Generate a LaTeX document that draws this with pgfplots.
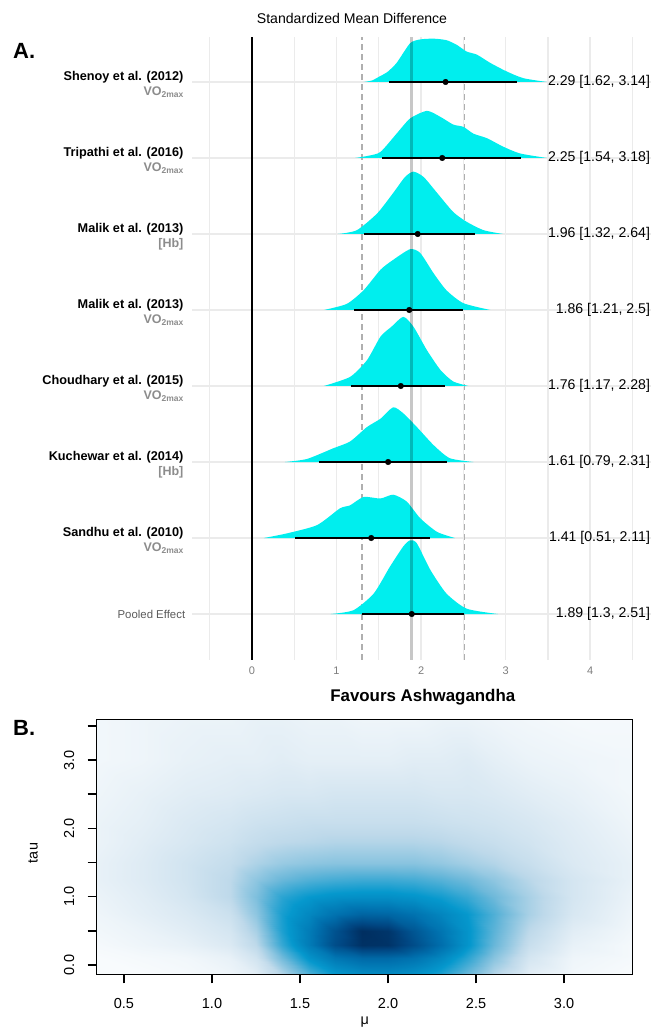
\documentclass[border=0pt]{standalone}
\usepackage{fontspec}
\setmainfont{Liberation Sans}
\usepackage{pgfplots}
\pgfplotsset{compat=1.18}
\usepackage{pgfplotstable}
\definecolor{ridge}{RGB}{0,238,238}
\definecolor{gridc}{RGB}{235,235,235}
\definecolor{sublab}{RGB}{140,140,140}
\definecolor{ticklab}{RGB}{125,125,125}
\definecolor{pooledlab}{RGB}{90,90,90}
\definecolor{dashc}{RGB}{175,175,175}
\pgfplotsset{colormap={hm}{rgb255(0pt)=(248,251,253) rgb255(8pt)=(222,235,244) rgb255(18pt)=(190,217,234) rgb255(33pt)=(110,185,218) rgb255(50pt)=(5,152,205) rgb255(68pt)=(0,110,172) rgb255(85pt)=(0,70,130) rgb255(100pt)=(0,35,80)}}
\pgfplotstableread{
x y z
0.345 -0.136 0.00
0.6 -0.136 0.00
0.85 -0.136 0.01
1.1 -0.136 0.03
1.25 -0.136 0.07
1.4 -0.136 0.20
1.55 -0.136 0.38
1.7 -0.136 0.50
1.85 -0.136 0.55
2.0 -0.136 0.56
2.15 -0.136 0.53
2.3 -0.136 0.46
2.45 -0.136 0.34
2.6 -0.136 0.20
2.8 -0.136 0.07
3.05 -0.136 0.02
3.39 -0.136 0.00
0.345 0.1 0.00
0.6 0.1 0.01
0.85 0.1 0.02
1.1 0.1 0.05
1.25 0.1 0.12
1.4 0.1 0.32
1.55 0.1 0.52
1.7 0.1 0.64
1.85 0.1 0.70
2.0 0.1 0.70
2.15 0.1 0.66
2.3 0.1 0.57
2.45 0.1 0.44
2.6 0.1 0.28
2.8 0.1 0.11
3.05 0.1 0.03
3.39 0.1 0.01
0.345 0.3 0.01
0.6 0.3 0.03
0.85 0.3 0.05
1.1 0.3 0.09
1.25 0.3 0.18
1.4 0.3 0.42
1.55 0.3 0.62
1.7 0.3 0.82
1.85 0.3 0.94
2.0 0.3 0.93
2.15 0.3 0.82
2.3 0.3 0.68
2.45 0.3 0.52
2.6 0.3 0.34
2.8 0.3 0.15
3.05 0.3 0.05
3.39 0.3 0.01
0.345 0.5 0.02
0.6 0.5 0.04
0.85 0.5 0.07
1.1 0.5 0.11
1.25 0.5 0.22
1.4 0.5 0.46
1.55 0.5 0.62
1.7 0.5 0.80
1.85 0.5 0.95
2.0 0.5 0.92
2.15 0.5 0.78
2.3 0.5 0.65
2.45 0.5 0.52
2.6 0.5 0.36
2.8 0.5 0.18
3.05 0.5 0.07
3.39 0.5 0.02
0.345 0.75 0.03
0.6 0.75 0.06
0.85 0.75 0.09
1.1 0.75 0.14
1.25 0.75 0.27
1.4 0.75 0.47
1.55 0.75 0.57
1.7 0.75 0.66
1.85 0.75 0.72
2.0 0.75 0.71
2.15 0.75 0.66
2.3 0.75 0.58
2.45 0.75 0.50
2.6 0.75 0.38
2.8 0.75 0.22
3.05 0.75 0.10
3.39 0.75 0.03
0.345 1.0 0.04
0.6 1.0 0.07
0.85 1.0 0.11
1.1 1.0 0.18
1.25 1.0 0.30
1.4 1.0 0.44
1.55 1.0 0.50
1.7 1.0 0.53
1.85 1.0 0.54
2.0 1.0 0.54
2.15 1.0 0.52
2.3 1.0 0.48
2.45 1.0 0.42
2.6 1.0 0.33
2.8 1.0 0.22
3.05 1.0 0.11
3.39 1.0 0.04
0.345 1.25 0.05
0.6 1.25 0.08
0.85 1.25 0.12
1.1 1.25 0.18
1.25 1.25 0.27
1.4 1.25 0.34
1.55 1.25 0.38
1.7 1.25 0.40
1.85 1.25 0.41
2.0 1.25 0.41
2.15 1.25 0.40
2.3 1.25 0.37
2.45 1.25 0.33
2.6 1.25 0.27
2.8 1.25 0.19
3.05 1.25 0.11
3.39 1.25 0.05
0.345 1.5 0.05
0.6 1.5 0.08
0.85 1.5 0.12
1.1 1.5 0.16
1.25 1.5 0.21
1.4 1.5 0.25
1.55 1.5 0.27
1.7 1.5 0.28
1.85 1.5 0.28
2.0 1.5 0.28
2.15 1.5 0.28
2.3 1.5 0.26
2.45 1.5 0.23
2.6 1.5 0.20
2.8 1.5 0.15
3.05 1.5 0.09
3.39 1.5 0.05
0.345 1.8 0.04
0.6 1.8 0.07
0.85 1.8 0.10
1.1 1.8 0.13
1.25 1.8 0.16
1.4 1.8 0.18
1.55 1.8 0.19
1.7 1.8 0.20
1.85 1.8 0.20
2.0 1.8 0.20
2.15 1.8 0.20
2.3 1.8 0.19
2.45 1.8 0.17
2.6 1.8 0.15
2.8 1.8 0.12
3.05 1.8 0.08
3.39 1.8 0.04
0.345 2.1 0.04
0.6 2.1 0.06
0.85 2.1 0.09
1.1 2.1 0.11
1.25 2.1 0.13
1.4 2.1 0.14
1.55 2.1 0.15
1.7 2.1 0.15
1.85 2.1 0.15
2.0 2.1 0.15
2.15 2.1 0.15
2.3 2.1 0.14
2.45 2.1 0.13
2.6 2.1 0.12
2.8 2.1 0.10
3.05 2.1 0.07
3.39 2.1 0.03
0.345 2.5 0.03
0.6 2.5 0.05
0.85 2.5 0.07
1.1 2.5 0.08
1.25 2.5 0.09
1.4 2.5 0.10
1.55 2.5 0.10
1.7 2.5 0.11
1.85 2.5 0.11
2.0 2.5 0.11
2.15 2.5 0.11
2.3 2.5 0.10
2.45 2.5 0.10
2.6 2.5 0.09
2.8 2.5 0.07
3.05 2.5 0.05
3.39 2.5 0.02
0.345 3.0 0.02
0.6 3.0 0.03
0.85 3.0 0.05
1.1 3.0 0.06
1.25 3.0 0.06
1.4 3.0 0.07
1.55 3.0 0.06
1.7 3.0 0.06
1.85 3.0 0.06
2.0 3.0 0.06
2.15 3.0 0.07
2.3 3.0 0.07
2.45 3.0 0.08
2.6 3.0 0.06
2.8 3.0 0.04
3.05 3.0 0.03
3.39 3.0 0.02
0.345 3.596 0.02
0.6 3.596 0.03
0.85 3.596 0.04
1.1 3.596 0.04
1.25 3.596 0.05
1.4 3.596 0.05
1.55 3.596 0.04
1.7 3.596 0.04
1.85 3.596 0.03
2.0 3.596 0.03
2.15 3.596 0.03
2.3 3.596 0.04
2.45 3.596 0.04
2.6 3.596 0.03
2.8 3.596 0.02
3.05 3.596 0.01
3.39 3.596 0.01
}\heat
\newcommand{\study}[3]{%
  \node[anchor=east,inner sep=0pt,font=\fontsize{12.7}{14}\selectfont\bfseries] at (axis cs:-0.81,#1+0.066) {#2};
  \node[anchor=east,inner sep=0pt,font=\fontsize{12.5}{14}\selectfont\bfseries,text=sublab] at (axis cs:-0.81,#1-0.13) {#3};}
\newcommand{\vo}{VO\raisebox{-0.3ex}{\fontsize{8.5}{9}\selectfont 2max}}
\newcommand{\est}[2]{\node[anchor=east,inner sep=0pt,font=\fontsize{14.1}{16}\selectfont] at (axis cs:4.71,#1) {#2};}
\begin{document}
\begin{tikzpicture}
\path[use as bounding box] (0,0) rectangle (651pt,1034pt);
\node[font=\fontsize{14.1}{16}\selectfont] at (352pt,1016pt) {Standardized Mean Difference};
\node[anchor=west,inner sep=0pt,font=\fontsize{22}{24}\selectfont\bfseries] at (13pt,983.5pt) {A.};
\node[anchor=west,inner sep=0pt,font=\fontsize{22}{24}\selectfont\bfseries] at (13pt,306pt) {B.};
\node[font=\fontsize{16.9}{18}\selectfont\bfseries] at (422.8pt,337.3pt) {Favours Ashwagandha};
\begin{axis}[
  scale only axis, width=459pt, height=623pt,
  at={(192pt,374pt)}, anchor=south west,
  xmin=-0.71, xmax=4.72, ymin=-0.605, ymax=7.592,
  axis line style={draw=none}, major tick length=0pt,
  xtick={-0.5,0,0.5,1,1.5,2,2.5,3,3.5,4,4.5},
  xticklabels={,0,,1,,2,,3,,4,},
  ytick={0,1,2,3,4,5,6,7}, yticklabels={},
  grid=major, major grid style={gridc, line width=1.3pt},
  clip=false,
  /pgf/number format/assume math mode=true,
  xticklabel style={anchor=center, yshift=-10.7pt, text=ticklab, font=\fontsize{11}{12}\selectfont},
]
% dashed interval lines
\addplot[dashc, line width=1.2pt, dash pattern=on 6pt off 4pt] coordinates {(1.3,-0.605) (1.3,7.592)};
\addplot[dashc, line width=1.2pt, dash pattern=on 6pt off 4pt] coordinates {(2.51,-0.605) (2.51,7.592)};
\addplot[black, line width=2.7pt] coordinates {(0,-0.605) (0,7.592)};
% densities
\addplot[fill=ridge, draw=none, smooth, tension=0.4] coordinates {(1.32,7.00) (1.42,7.02) (1.52,7.08) (1.60,7.13) (1.71,7.25) (1.87,7.51) (1.99,7.56) (2.15,7.57) (2.30,7.55) (2.42,7.49) (2.54,7.40) (2.66,7.36) (2.82,7.25) (3.01,7.14) (3.21,7.05) (3.49,7.00)};
\addplot[fill=ridge, draw=none, smooth, tension=0.4] coordinates {(1.22,6.00) (1.38,6.03) (1.52,6.08) (1.71,6.32) (1.87,6.52) (2.07,6.62) (2.23,6.54) (2.38,6.44) (2.50,6.41) (2.62,6.32) (2.78,6.26) (2.97,6.15) (3.17,6.06) (3.49,6.00)};
\addplot[fill=ridge, draw=none, smooth, tension=0.4] coordinates {(1.02,5.00) (1.24,5.05) (1.48,5.27) (1.67,5.54) (1.81,5.75) (1.91,5.82) (2.03,5.75) (2.19,5.54) (2.38,5.29) (2.54,5.16) (2.74,5.05) (2.97,5.00)};
\addplot[fill=ridge, draw=none, smooth, tension=0.4] coordinates {(0.85,4.00) (1.12,4.08) (1.32,4.26) (1.52,4.53) (1.67,4.66) (1.87,4.80) (1.99,4.75) (2.15,4.48) (2.30,4.26) (2.50,4.09) (2.82,4.00)};
\addplot[fill=ridge, draw=none, smooth, tension=0.4] coordinates {(0.85,3.00) (1.16,3.12) (1.36,3.34) (1.52,3.65) (1.65,3.78) (1.79,3.91) (1.91,3.78) (2.07,3.47) (2.23,3.21) (2.38,3.06) (2.56,3.00)};
\addplot[fill=ridge, draw=none, smooth, tension=0.4] coordinates {(0.39,2.00) (0.65,2.04) (0.96,2.18) (1.16,2.27) (1.36,2.46) (1.52,2.57) (1.67,2.72) (1.79,2.64) (1.95,2.46) (2.15,2.22) (2.34,2.05) (2.62,2.00)};
\addplot[fill=ridge, draw=none, smooth, tension=0.4] coordinates {(0.14,1.00) (0.41,1.06) (0.77,1.17) (1.04,1.39) (1.16,1.43) (1.32,1.54) (1.52,1.52) (1.67,1.57) (1.83,1.48) (1.99,1.26) (2.19,1.08) (2.40,1.00)};
\addplot[fill=ridge, draw=none, smooth, tension=0.4] coordinates {(0.93,0.00) (1.20,0.05) (1.44,0.27) (1.63,0.62) (1.79,0.89) (1.87,0.97) (1.95,0.93) (2.11,0.58) (2.30,0.27) (2.54,0.07) (2.91,0.00)};
% intervals
\addplot[black, line width=2.2pt] coordinates {(1.62,7) (3.14,7)};
\addplot[black, line width=2.2pt] coordinates {(1.54,6) (3.18,6)};
\addplot[black, line width=2.2pt] coordinates {(1.32,5) (2.64,5)};
\addplot[black, line width=2.2pt] coordinates {(1.21,4) (2.5,4)};
\addplot[black, line width=2.2pt] coordinates {(1.17,3) (2.28,3)};
\addplot[black, line width=2.2pt] coordinates {(0.79,2) (2.31,2)};
\addplot[black, line width=2.2pt] coordinates {(0.51,1) (2.11,1)};
\addplot[black, line width=2.2pt] coordinates {(1.3,0) (2.51,0)};
\addplot[only marks, mark=*, mark size=2.8pt, black] coordinates {(2.29,7) (2.25,6) (1.96,5) (1.86,4) (1.76,3) (1.61,2) (1.41,1) (1.89,0)};
% pooled line
\addplot[black, opacity=0.22, line width=3.2pt] coordinates {(1.89,-0.605) (1.89,7.592)};
\study{7}{Shenoy et al. (2012)}{\vo}
\study{6}{Tripathi et al. (2016)}{\vo}
\study{5}{Malik et al. (2013)}{[Hb]}
\study{4}{Malik et al. (2013)}{\vo}
\study{3}{Choudhary et al. (2015)}{\vo}
\study{2}{Kuchewar et al. (2014)}{[Hb]}
\study{1}{Sandhu et al. (2010)}{\vo}
\node[anchor=east,inner sep=0pt,font=\fontsize{11.4}{13}\selectfont,text=pooledlab] at (axis cs:-0.788,0) {Pooled Effect};
\est{7}{2.29 [1.62, 3.14]}
\est{6}{2.25 [1.54, 3.18]}
\est{5}{1.96 [1.32, 2.64]}
\est{4}{1.86 [1.21, 2.5]}
\est{3}{1.76 [1.17, 2.28]}
\est{2}{1.61 [0.79, 2.31]}
\est{1}{1.41 [0.51, 2.11]}
\est{0}{1.89 [1.3, 2.51]}
\end{axis}
% heat map with frame and ticks
\begin{axis}[
  scale only axis, width=536pt, height=255pt,
  at={(96.7pt,59.7pt)}, anchor=south west,
  xmin=0.345, xmax=3.39, ymin=-0.136, ymax=3.596,
  axis line style={line width=1.2pt, black},
  tick align=outside, tick pos=left,
  major tick length=9pt,
  tick style={line width=1.4pt, black},
  xtick={0.5,1,1.5,2,2.5,3}, xticklabels={0.5,1.0,1.5,2.0,2.5,3.0},
  ytick={0,0.5,1,1.5,2,2.5,3,3.5}, yticklabels={0.0,,1.0,,2.0,,3.0,},
  /pgf/number format/assume math mode=true,
  ticklabel style={font=\fontsize{14.5}{16}\selectfont},
  xticklabel style={anchor=center, yshift=-20pt},
  yticklabel style={xshift=-18.5pt, rotate=90, anchor=center},
  colormap name=hm, point meta min=0, point meta max=1,
  clip=true, axis on top,
]
\addplot[surf, shader=interp, mesh/cols=17, point meta=explicit] table[x=x, y=y, meta=z] {\heat};
\end{axis}
% x tick marks of panel B (axis decoration, same places as the axis ticks)
\draw[line width=1.4pt, black] (124.0pt,59.7pt) -- (124.0pt,50.7pt);
\draw[line width=1.4pt, black] (212.0pt,59.7pt) -- (212.0pt,50.7pt);
\draw[line width=1.4pt, black] (300.0pt,59.7pt) -- (300.0pt,50.7pt);
\draw[line width=1.4pt, black] (388.0pt,59.7pt) -- (388.0pt,50.7pt);
\draw[line width=1.4pt, black] (476.0pt,59.7pt) -- (476.0pt,50.7pt);
\draw[line width=1.4pt, black] (564.0pt,59.7pt) -- (564.0pt,50.7pt);
\node[font=\fontsize{14.4}{16}\selectfont] at (364.7pt,12pt) {μ};
\node[rotate=90,font=\fontsize{14.4}{16}\selectfont] at (33pt,181pt) {tau};
\end{tikzpicture}
\end{document}
